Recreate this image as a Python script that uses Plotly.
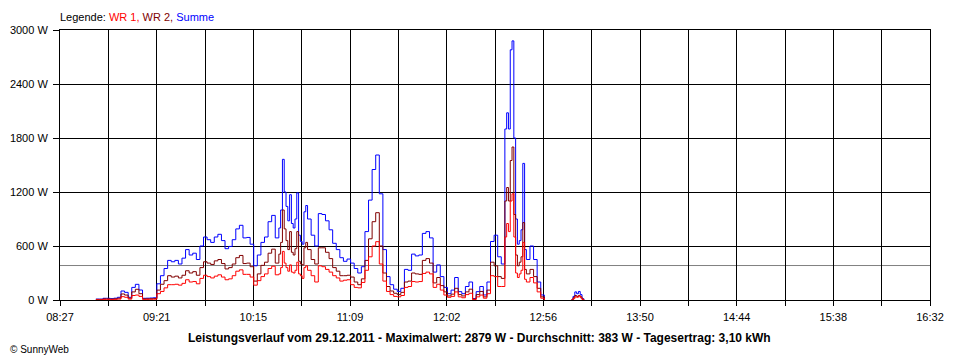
import plotly.graph_objects as go

# ---- data ----
zeit = ["08:47","08:49","08:51","08:53","08:55","08:57","08:59","09:01","09:03","09:05",
        "09:07","09:09","09:11","09:13","09:15","09:17","09:19","09:21","09:23","09:25",
        "09:27","09:29","09:31","09:33","09:35","09:37","09:39","09:41","09:43","09:45",
        "09:47","09:49","09:51","09:53","09:55","09:57","09:59","10:01","10:03","10:05",
        "10:07","10:09","10:11","10:13","10:15","10:17","10:19","10:21","10:23","10:25",
        "10:27","10:29","10:30","10:31","10:32","10:33","10:34","10:35","10:36","10:37",
        "10:38","10:39","10:40","10:41","10:42","10:43","10:44","10:45","10:47","10:49",
        "10:51","10:53","10:55","10:57","10:59","11:01","11:03","11:05","11:07","11:09",
        "11:11","11:13","11:15","11:17","11:19","11:21","11:23","11:25","11:27","11:29",
        "11:31","11:33","11:35","11:37","11:39","11:41","11:43","11:45","11:47","11:49",
        "11:51","11:53","11:55","11:57","11:59","12:01","12:03","12:05","12:07","12:09",
        "12:11","12:13","12:15","12:17","12:19","12:21","12:23","12:25","12:27","12:29",
        "12:31","12:33","12:35","12:36","12:37","12:38","12:39","12:40","12:41","12:42",
        "12:43","12:44","12:45","12:46","12:47","12:49","12:51","12:53","12:55","12:57",
        "13:05","13:12","13:13","13:14","13:15","13:16","13:17","13:18","13:19"]

summe = [10,10,19,19,15,20,30,100,85,30,
         140,174,111,19,20,22,25,180,270,350,
         440,425,440,400,465,560,500,520,450,600,
         700,670,640,700,730,660,570,595,670,790,
         830,690,695,620,380,500,640,700,870,940,
         690,800,1000,1563,1200,1040,880,1170,850,800,
         900,1190,720,650,620,980,1050,900,720,600,
         960,950,880,780,630,560,470,430,455,410,
         350,300,370,760,1110,1450,1611,1180,560,260,
         170,120,95,130,340,330,510,490,500,740,
         760,690,310,390,260,140,70,110,250,93,
         70,150,200,15,93,150,56,200,650,720,
         480,400,1900,2080,1900,2780,2879,1800,900,620,
         660,780,1518,560,450,600,450,200,56,0,
         None,0,40,90,70,95,60,15,0]

wr1 = [3,3,7,7,5,7,10,37,30,10,
       50,55,40,7,7,8,9,70,95,135,
       170,170,175,165,185,225,200,205,180,240,
       275,260,245,265,280,255,225,235,270,320,
       335,285,285,255,165,215,260,290,350,375,
       280,290,360,540,410,360,320,390,310,300,
       330,420,290,270,240,360,380,330,270,200,
       380,370,340,310,270,245,210,220,225,170,
       140,135,195,330,480,600,648,400,210,95,
       60,40,35,50,140,150,205,200,205,295,
       310,290,140,175,110,55,30,40,90,35,
       25,60,75,5,35,55,20,70,270,260,
       150,150,700,850,760,1100,1180,700,300,250,
       290,330,640,230,200,250,190,90,20,0,
       None,0,15,35,30,45,25,5,0]

wr2 = [7,7,12,12,10,13,20,67,55,20,
       90,119,70,12,13,14,16,110,175,215,
       270,255,265,245,275,325,300,315,275,360,
       425,410,395,435,450,405,345,360,400,470,
       495,405,410,370,210,290,385,420,520,565,
       410,510,640,1000,790,660,560,760,530,500,
       570,760,430,400,390,580,640,560,450,400,
       580,580,530,460,360,320,270,270,275,255,
       200,170,235,440,680,870,970,600,300,150,
       100,75,60,85,200,210,300,290,285,440,
       460,410,190,250,160,90,45,65,130,60,
       45,90,120,10,60,95,35,110,420,380,
       260,240,1100,1250,1100,1550,1700,950,500,380,
       420,480,860,340,290,340,260,130,35,0,
       None,0,25,50,40,50,35,10,0]

durchschnitt = 383
tick_labels = ["08:27","","09:21","","10:15","","11:09","","12:02","","12:56",
               "","13:50","","14:44","","15:38","","16:32"]
y_ticks = [0, 600, 1200, 1800, 2400, 3000]

# ---- helpers ----
def to_min(s):
    h, m = s.split(":")
    return int(h) * 60 + int(m)

x = [to_min(s) for s in zeit]
x_start, x_end = to_min("08:27"), to_min("16:32")
n_int = len(tick_labels) - 1
tickvals = [x_start + i * (x_end - x_start) / n_int for i in range(len(tick_labels))]

FONT = "Liberation Sans, Arial, sans-serif"

fig = go.Figure()
fig.add_trace(go.Scatter(x=x, y=summe, mode="lines", name="Summe",
                         line=dict(color="#0000FF", width=1, shape="hv"),
                         connectgaps=False))
fig.add_trace(go.Scatter(x=x, y=wr2, mode="lines", name="WR 2",
                         line=dict(color="#800000", width=1, shape="hv"),
                         connectgaps=False))
fig.add_trace(go.Scatter(x=x, y=wr1, mode="lines", name="WR 1",
                         line=dict(color="#FF0000", width=1, shape="hv"),
                         connectgaps=False))

fig.add_shape(type="line", xref="paper", x0=0, x1=1, yref="y",
              y0=durchschnitt, y1=durchschnitt,
              line=dict(color="#808080", width=1), layer="below")

fig.update_xaxes(range=[x_start, x_end], tickmode="array", tickvals=tickvals,
                 ticktext=tick_labels, showgrid=True, gridcolor="#000000",
                 gridwidth=1, showline=True, linecolor="#000000", linewidth=1,
                 mirror=True, ticks="outside", ticklen=5, tickcolor="#000000",
                 ticklabelstandoff=2, automargin=False,
                 tickfont=dict(family=FONT, size=11, color="#000000"),
                 zeroline=False, fixedrange=True)
fig.update_yaxes(range=[0, 3000], tickmode="array", tickvals=y_ticks,
                 ticktext=[f"{v} W" for v in y_ticks], showgrid=True,
                 gridcolor="#000000", gridwidth=1, showline=True,
                 linecolor="#000000", linewidth=1, mirror=True,
                 ticks="outside", ticklen=6, tickcolor="#000000",
                 ticklabelstandoff=3, automargin=False,
                 tickfont=dict(family=FONT, size=11, color="#000000"),
                 zeroline=False, fixedrange=True)

fig.add_annotation(xref="paper", yref="paper", x=-2 / 870, y=1.048,
                   xanchor="left", yanchor="middle", showarrow=False,
                   text="Legende: <span style='color:#FF0000'>WR 1,</span> "
                        "<span style='color:#800000'>WR 2,</span> "
                        "<span style='color:#0000FF'>Summe</span>",
                   font=dict(family=FONT, size=11, color="#000000"))
fig.add_annotation(xref="paper", yref="paper", x=(479 - 60) / 870, y=-0.1407,
                   xanchor="center", yanchor="middle", showarrow=False,
                   text="<b>Leistungsverlauf vom 29.12.2011 - Maximalwert: 2879 W - "
                        "Durchschnitt: 383 W - Tagesertrag: 3,10 kWh</b>",
                   font=dict(family=FONT, size=12, color="#000000"))
fig.add_annotation(xref="paper", yref="paper", x=(8 - 60) / 870, y=-0.185,
                   xanchor="left", yanchor="middle", showarrow=False,
                   text="© SunnyWeb",
                   font=dict(family=FONT, size=10, color="#000000"))

# the page adds an 8px body margin, so the figure is made 8px smaller and
# shifted so the plot area lands at the reference's pixel position
fig.update_layout(width=952, height=352, showlegend=False,
                  margin=dict(l=52, r=30, t=22, b=60, autoexpand=False),
                  paper_bgcolor="#FFFFFF", plot_bgcolor="#FFFFFF")

fig.write_html("out.html")
